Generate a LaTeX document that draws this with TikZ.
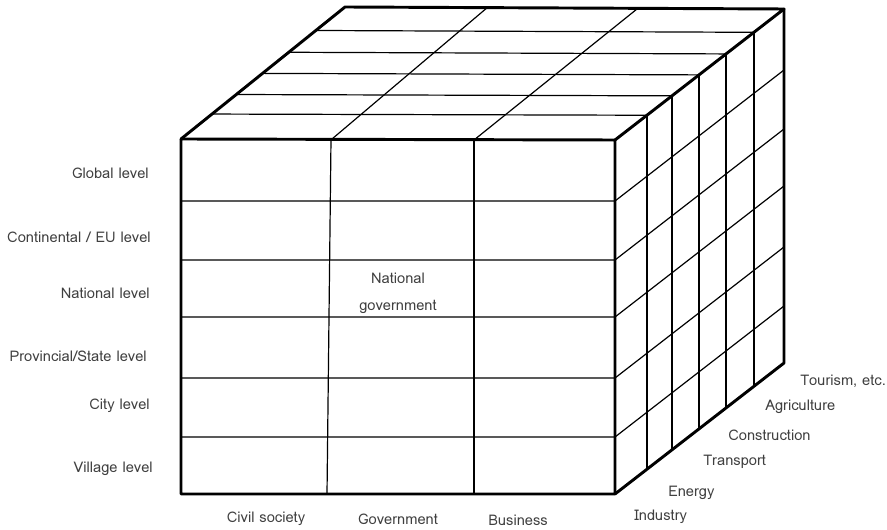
\documentclass[tikz,border=0pt]{standalone}
\usepackage{fontspec}
\newfontfamily\labelfont[Script=Thai]{Loma}
\begin{document}
\begin{tikzpicture}[x=0.75pt,y=-0.75pt,
  edge/.style={line width=2.2pt,line join=round,line cap=round},
  grid/.style={line width=0.9pt},
  lbl/.style={font=\labelfont\fontsize{11}{12}\selectfont,text=black!75,inner sep=0pt}]
\useasboundingbox (0,0) rectangle (887,530);
% corner points of the box
\coordinate (F1) at (181,139);
\coordinate (F2) at (615,140);
\coordinate (F3) at (615,494);
\coordinate (F4) at (181,494);
\coordinate (B1) at (345,7);
\coordinate (B2) at (784,9);
\coordinate (B3) at (784,363);
% front face: rows and columns
\foreach \y in {201,260,317,378,437}
  \draw[grid] (181,\y) -- (615,\y) -- ({784},{\y-131});
\draw[grid] (331,139) -- (327,494);
\draw[grid] (474,140) -- (474,494);
% right face verticals and matching top-face rows
\foreach \t in {0.189,0.337,0.497,0.657,0.822}{
  \draw[grid] ({615+169*\t},{140-131*\t}) -- ({615+169*\t},{494-131*\t});
  \draw[grid] ({181+164*\t},{139-132*\t}) -- ({615+169*\t},{140-131*\t});
}
% top face depth lines
\draw[grid] (332,139) -- (488,7);
\draw[grid] (474,140) -- (637,9);
% outline
\draw[edge] (F1) -- (F2) -- (F3) -- (F4) -- cycle;
\draw[edge] (F1) -- (B1) -- (B2) -- (F2);
\draw[edge] (B2) -- (B3) -- (F3);
% level labels
\node[lbl,anchor=east] (global) at (149,173) {Global level};
\node[lbl,anchor=east] (continental) at (151,237) {Continental / EU level};
\node[lbl,anchor=east] (national) at (150,293) {National level};
\node[lbl,anchor=east] (provincial) at (147,356) {Provincial/State level};
\node[lbl,anchor=east] (city) at (150,406) {City level};
\node[lbl,anchor=east] (village) at (153,469) {Village level};
% actor labels
\node[lbl] (civil) at (266,519) {Civil society};
\node[lbl] (gov) at (398,519) {Government};
\node[lbl] (business) at (518,520) {Business};
\node[lbl,align=center] (natgov) at (398,293) {National\\[8pt]government};
% sector labels
\node[lbl,anchor=west] (tourism) at (800,381) {Tourism, etc.};
\node[lbl,anchor=west] (agri) at (765,407) {Agriculture};
\node[lbl,anchor=west] (constr) at (728,435) {Construction};
\node[lbl,anchor=west] (transport) at (703,462) {Transport};
\node[lbl,anchor=west] (energy) at (668,493) {Energy};
\node[lbl,anchor=west] (industry) at (634,517) {Industry};
\end{tikzpicture}
\end{document}
